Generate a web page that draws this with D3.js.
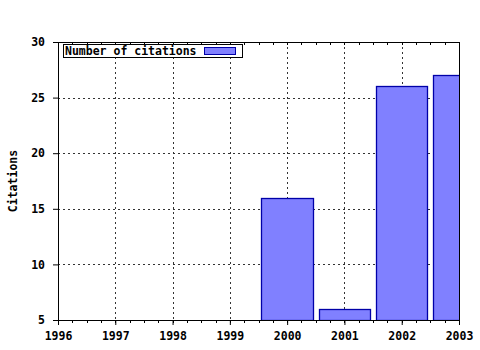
<!DOCTYPE html>
<html lang="en">
<head>
<meta charset="utf-8" />
<title>Citations</title>
<script src="https://d3js.org/d3.v7.min.js"></script>
<style>
  body { margin: 0; background: #fff; }
  text { font-family: "DejaVu Sans Mono", monospace; font-weight: bold; font-size: 11.5px; }
</style>
</head>
<body>
<script>
// chart data
const years = [2000, 2001, 2002, 2003];
const citations = [16, 6, 26, 27];
const yTicks = [5, 10, 15, 20, 25, 30];
const xTicks = [1996, 1997, 1998, 1999, 2000, 2001, 2002, 2003];
const seriesName = "Number of citations";
const yTitle = "Citations";

const width = 480, height = 350;
const margin = { top: 42, right: 21, bottom: 30, left: 58 };
const w = width - margin.left - margin.right;
const h = height - margin.top - margin.bottom;

const svg = d3.select("body").append("svg")
    .attr("width", width)
    .attr("height", height);

const x = d3.scaleLinear().domain([1996, 2003]).range([0, w]);
const y = d3.scaleLinear().domain([5, 30]).range([h, 0]);

const g = svg.append("g").attr("transform", `translate(${margin.left},${margin.top})`);

g.append("clipPath").attr("id", "clip")
  .append("rect").attr("width", w).attr("height", h);

// grid
g.append("g").selectAll("line")
  .data(xTicks.slice(1, -1))
  .join("line")
  .attr("x1", d => Math.round(x(d)) + 0.5).attr("x2", d => Math.round(x(d)) + 0.5)
  .attr("y1", 0).attr("y2", h)
  .attr("stroke", "#333").attr("stroke-dasharray", "2,3");

g.append("g").selectAll("line")
  .data(yTicks.slice(1, -1))
  .join("line")
  .attr("x1", 0).attr("x2", w)
  .attr("y1", d => Math.round(y(d)) + 0.5).attr("y2", d => Math.round(y(d)) + 0.5)
  .attr("stroke", "#333").attr("stroke-dasharray", "2,3");

// bars
const bw = 0.9;
g.append("g").attr("clip-path", "url(#clip)")
  .selectAll("rect")
  .data(years)
  .join("rect")
  .attr("x", d => Math.round(x(d - bw / 2)) + 0.5)
  .attr("width", d => Math.round(x(d + bw / 2)) - Math.round(x(d - bw / 2)))
  .attr("y", (d, i) => Math.round(y(citations[i])) + 0.5)
  .attr("height", (d, i) => h - Math.round(y(citations[i])))
  .attr("fill", "#8080ff")
  .attr("stroke", "#0000a8")
  .attr("stroke-width", 1.3);

// minor ticks (quarters)
const minor = d3.range(1996, 2003.01, 0.25);
g.append("g").selectAll("line")
  .data(minor)
  .join("line")
  .attr("x1", d => Math.round(x(d)) + 0.5).attr("x2", d => Math.round(x(d)) + 0.5)
  .attr("y1", h).attr("y2", h + 3)
  .attr("stroke", "#000");
g.append("g").selectAll("line")
  .data(minor)
  .join("line")
  .attr("x1", d => Math.round(x(d)) + 0.5).attr("x2", d => Math.round(x(d)) + 0.5)
  .attr("y1", 0).attr("y2", 3)
  .attr("stroke", "#000");

// axes
const xAxis = d3.axisBottom(x).tickValues(xTicks).tickFormat(d3.format("d")).tickSize(5).tickPadding(7);
const yAxis = d3.axisLeft(y).tickValues(yTicks).tickSize(5).tickPadding(8);

const gx = g.append("g").attr("transform", `translate(0,${h})`).call(xAxis);
const gy = g.append("g").call(yAxis);
[gx, gy].forEach(a => {
  a.select(".domain").remove();
  a.selectAll("text").attr("fill", "#000").style("font-family", "'DejaVu Sans Mono', monospace")
    .style("font-weight", "bold").style("font-size", "11.5px");
});

// frame
g.append("rect")
  .attr("x", 0.5).attr("y", 0.5)
  .attr("width", w).attr("height", h)
  .attr("fill", "none").attr("stroke", "#000");

// legend
const lg = g.append("g").attr("transform", "translate(5,2)");
lg.append("rect").attr("x", 0.5).attr("y", 0.5).attr("width", 179).attr("height", 13)
  .attr("fill", "#fff").attr("stroke", "#000");
lg.append("text").attr("x", 2).attr("y", 11).text(seriesName);
lg.append("rect").attr("x", 141.5).attr("y", 3.5).attr("width", 31).attr("height", 7)
  .attr("fill", "#8080ff").attr("stroke", "#0000a8");

// y title
svg.append("text")
  .attr("transform", `translate(17,${margin.top + h / 2}) rotate(-90)`)
  .attr("text-anchor", "middle")
  .text(yTitle);
</script>
</body>
</html>
